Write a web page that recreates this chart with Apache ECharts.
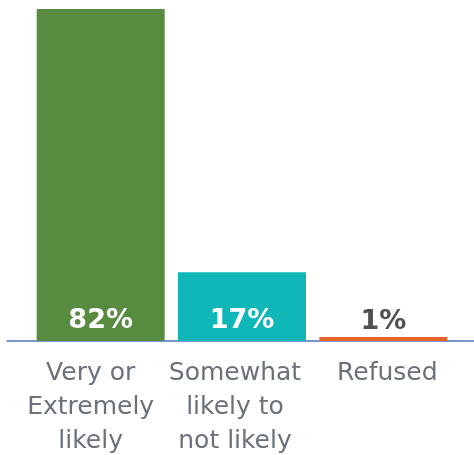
<!DOCTYPE html>
<html>
<head>
<meta charset="utf-8">
<script src="https://cdn.jsdelivr.net/npm/echarts@6/dist/echarts.min.js"></script>
<style>html,body{margin:0;padding:0;background:#fff;}#c{width:474px;height:455px;}</style>
</head>
<body>
<div id="c"></div>
<script>
const categories = ['Very or\nExtremely\nlikely', 'Somewhat\nlikely to\nnot likely', 'Refused'];
const values = [82, 17, 1];
const valueLabels = ['82%', '17%', '1%'];
const barColors = ['#578b40', '#10b7b8', '#e9642a'];
const labelStyleKeys = ['a', 'b', 'c'];

const chart = echarts.init(document.getElementById('c'));
chart.setOption({
  animation: false,
  grid: [
    {left: 30, right: 20, top: 9, bottom: 114, containLabel: false, outerBoundsMode: 'none'},
    {left: 7, right: 0, top: 9, bottom: 114, containLabel: false, outerBoundsMode: 'none'}
  ],
  xAxis: [
    {
      type: 'category', data: categories, gridIndex: 0,
      axisLine: {show: false}, axisTick: {show: false},
      axisLabel: {
        interval: 0, margin: 15, color: '#6a717b',
        fontFamily: 'DejaVu Sans', fontSize: 25, lineHeight: 34,
        formatter: (v, i) => '{' + labelStyleKeys[i] + '|' + v + '}',
        rich: {
          a: {fontFamily: 'DejaVu Sans', fontSize: 25, lineHeight: 34, color: '#6a717b', padding: [0, 20, 0, 0]},
          b: {fontFamily: 'DejaVu Sans', fontSize: 25, lineHeight: 34, color: '#6a717b', padding: [0, 14, 0, 0]},
          c: {fontFamily: 'DejaVu Sans', fontSize: 25, lineHeight: 34, color: '#6a717b', padding: [0, 0, 0, 8]}
        }
      }
    },
    {
      type: 'value', gridIndex: 1, min: 0, max: 1,
      axisLine: {show: true, lineStyle: {color: '#4a74c0', width: 1.5}},
      axisTick: {show: false}, axisLabel: {show: false}, splitLine: {show: false}
    }
  ],
  yAxis: [
    {type: 'value', gridIndex: 0, min: 0, max: 82, show: false},
    {type: 'value', gridIndex: 1, min: 0, max: 1, show: false}
  ],
  series: [{
    type: 'bar',
    xAxisIndex: 0, yAxisIndex: 0,
    barWidth: 128,
    data: values.map((v, i) => ({
      value: v,
      itemStyle: {color: barColors[i]},
      label: i === 2
        ? {position: 'top', distance: 1, color: '#505050'}
        : {position: 'insideBottom', distance: 7, color: '#ffffff'}
    })),
    label: {
      show: true,
      fontFamily: 'DejaVu Sans', fontWeight: 'bold', fontSize: 27,
      formatter: p => valueLabels[p.dataIndex]
    }
  }]
});
</script>
</body>
</html>
